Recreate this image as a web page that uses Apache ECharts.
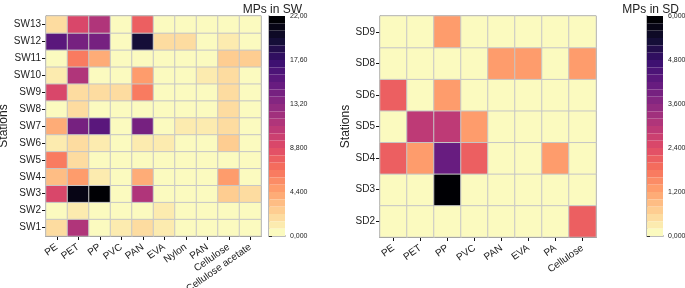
<!DOCTYPE html>
<html>
<head>
<meta charset="utf-8">
<script src="https://cdn.jsdelivr.net/npm/echarts@6/dist/echarts.min.js"></script>
<style>
  html, body { margin: 0; padding: 0; background: #fff; }
  #chart { width: 685px; height: 288px; }
</style>
</head>
<body>
<div id="chart"></div>
<script>
// categories
const swPolymers = ["PE", "PET", "PP", "PVC", "PAN", "EVA", "Nylon", "PAN", "Cellulose", "Cellulose acetate"];
const swStations = ["SW1", "SW2", "SW3", "SW4", "SW5", "SW6", "SW7", "SW8", "SW9", "SW10", "SW11", "SW12", "SW13"];
const sdPolymers = ["PE", "PET", "PP", "PVC", "PAN", "EVA", "PA", "Cellulose"];
const sdStations = ["SD2", "SD3", "SD4", "SD5", "SD6", "SD8", "SD9"];

// values, one row per station (bottom to top), one column per polymer
const swValues = [
  [2.0, 11.0, 0, 1.0, 2.0, 1.2, 0, 0, 0, 0],          // SW1
  [0, 1.2, 0, 0, 0, 1.2, 0, 0, 0, 0],                 // SW2
  [9.5, 21.0, 22.0, 0, 11.0, 0, 0, 0, 2.5, 1.5],      // SW3
  [3.6, 4.8, 1.2, 0, 4.2, 0, 0, 0, 5.0, 0],           // SW4
  [6.5, 2.0, 0, 0, 0, 0, 0, 0, 0, 0],                 // SW5
  [1.2, 2.0, 1.2, 0, 1.2, 1.2, 0, 0, 2.2, 0],         // SW6
  [4.0, 14.5, 16.0, 0, 14.5, 0, 1.0, 1.0, 1.5, 0],    // SW7
  [0, 2.0, 0, 0, 0, 0, 0, 0, 2.0, 0],                 // SW8
  [9.0, 2.0, 1.5, 1.5, 6.5, 0, 0, 0, 2.0, 0],         // SW9
  [1.2, 11.0, 0, 0, 4.5, 0, 0, 1.0, 2.0, 0],          // SW10
  [0, 6.5, 4.0, 0, 0, 0, 0, 0, 2.5, 2.5],             // SW11
  [15.5, 14.5, 14.5, 0, 19.5, 2.0, 2.0, 0, 1.0, 0],   // SW12
  [1.5, 9.5, 11.0, 0, 7.5, 0, 0, 0, 0, 0]             // SW13
];
const sdValues = [
  [0, 0, 0, 0, 0, 0, 0, 2.1],         // SD2
  [0, 0, 6.0, 0, 0, 0, 0, 0],         // SD3
  [2.1, 1.3, 4.1, 2.1, 0, 0, 1.3, 0], // SD4
  [0, 3.0, 3.0, 1.3, 0, 0, 0, 0],     // SD5
  [2.1, 0, 1.3, 0, 0, 0, 0, 0],       // SD6
  [0, 0, 0, 0, 1.3, 1.3, 0, 1.3],     // SD8
  [0, 0, 1.3, 0, 0, 0, 0, 0]          // SD9
];

// colour bar ticks
const swMax = 22;
const swStep = 4.4;
const swBarLabels = ["0,000", "4,400", "8,800", "13,20", "17,60", "22,00"];
const sdMax = 6;
const sdStep = 1.2;
const sdBarLabels = ["0,000", "1,200", "2,400", "3,600", "4,800", "6,000"];

// magma, reversed (low = pale yellow)
const magmaR = ["#fbfabf", "#fecf92", "#fe9f6d", "#f7705c", "#de4968", "#b73779",
  "#8c2981", "#641a80", "#3b0f70", "#140e36", "#000004"];

const font = "Liberation Sans, Arial, sans-serif";
const txt = "#222";

function toCells(rows) {
  const out = [];
  rows.forEach((row, y) => row.forEach((v, x) => out.push([x, y, v])));
  return out;
}

function heatX(cats, gi) {
  return {
    type: "category", gridIndex: gi, data: cats,
    axisLine: { show: true, lineStyle: { color: "#111", width: 1 } },
    axisTick: { show: true, length: 4, alignWithLabel: true, lineStyle: { color: "#111" } },
    axisLabel: { rotate: 35, fontSize: 10, color: txt, fontFamily: font, margin: 10, interval: 0 },
    splitLine: { show: false }
  };
}
function heatY(cats, gi, gap) {
  return {
    type: "category", gridIndex: gi, data: cats,
    name: "Stations", nameLocation: "middle", nameRotate: 90, nameGap: gap,
    nameTextStyle: { fontSize: 12, color: txt, fontFamily: font },
    axisLine: { show: true, lineStyle: { color: "#111", width: 1 } },
    axisTick: { show: true, length: 4, alignWithLabel: true, lineStyle: { color: "#111" } },
    axisLabel: { fontSize: 10, color: txt, fontFamily: font, margin: 5, interval: 0 },
    splitLine: { show: false }
  };
}
function barX(gi) {
  return {
    type: "value", gridIndex: gi, min: 0, max: 1, show: true,
    axisLine: { show: true, lineStyle: { color: "#bbb", width: 2 } },
    axisTick: { show: false }, axisLabel: { show: false }, splitLine: { show: false }
  };
}
function barY(gi, max, step, labels) {
  return {
    type: "value", gridIndex: gi, position: "right", min: 0, max: max, interval: step,
    axisLine: { show: true, lineStyle: { color: "#bbb", width: 2 } },
    axisTick: { show: true, length: 3, lineStyle: { color: "#333" } },
    axisLabel: {
      fontSize: 7, color: txt, fontFamily: font, margin: 5,
      formatter: (v) => labels[Math.round(v / step)]
    },
    splitLine: { show: false }
  };
}

const option = {
  animation: false,
  backgroundColor: "#fff",
  title: [
    { text: "MPs in SW", right: 378, top: -1, textStyle: { fontSize: 12, fontWeight: "normal", color: txt, fontFamily: font } },
    { text: "MPs in SD", right: 1, top: -1, textStyle: { fontSize: 12, fontWeight: "normal", color: txt, fontFamily: font } }
  ],
  grid: [
    { left: 46, top: 16, width: 215, height: 220, show: true, borderColor: "#222", borderWidth: 1, outerBoundsMode: "none" },
    { left: 269, top: 16, width: 16, height: 220, outerBoundsMode: "none" },
    { left: 380, top: 16, width: 216, height: 221, show: true, borderColor: "#222", borderWidth: 1, outerBoundsMode: "none" },
    { left: 647, top: 16, width: 16, height: 220, outerBoundsMode: "none" }
  ],
  xAxis: [heatX(swPolymers, 0), barX(1), heatX(sdPolymers, 2), barX(3)],
  yAxis: [heatY(swStations, 0, 31), barY(1, swMax, swStep, swBarLabels),
          heatY(sdStations, 2, 27), barY(3, sdMax, sdStep, sdBarLabels)],
  visualMap: [
    {
      type: "piecewise", seriesIndex: 0, min: 0, max: swMax, splitNumber: 30,
      left: 269, top: 16, padding: 0, itemGap: 0, itemWidth: 16, itemHeight: 220 / 30,
      itemSymbol: "rect", showLabel: false, selectedMode: false, orient: "vertical",
      inRange: { color: magmaR }
    },
    {
      type: "piecewise", seriesIndex: 1, min: 0, max: sdMax, splitNumber: 30,
      left: 647, top: 16, padding: 0, itemGap: 0, itemWidth: 16, itemHeight: 220 / 30,
      itemSymbol: "rect", showLabel: false, selectedMode: false, orient: "vertical",
      inRange: { color: magmaR }
    }
  ],
  series: [
    {
      type: "heatmap", xAxisIndex: 0, yAxisIndex: 0, data: toCells(swValues),
      itemStyle: { borderColor: "#c6c6c6", borderWidth: 1 },
      emphasis: { disabled: true }
    },
    {
      type: "heatmap", xAxisIndex: 2, yAxisIndex: 2, data: toCells(sdValues),
      itemStyle: { borderColor: "#c6c6c6", borderWidth: 1 },
      emphasis: { disabled: true }
    }
  ]
};

const chart = echarts.init(document.getElementById("chart"));
chart.setOption(option);
</script>
</body>
</html>
